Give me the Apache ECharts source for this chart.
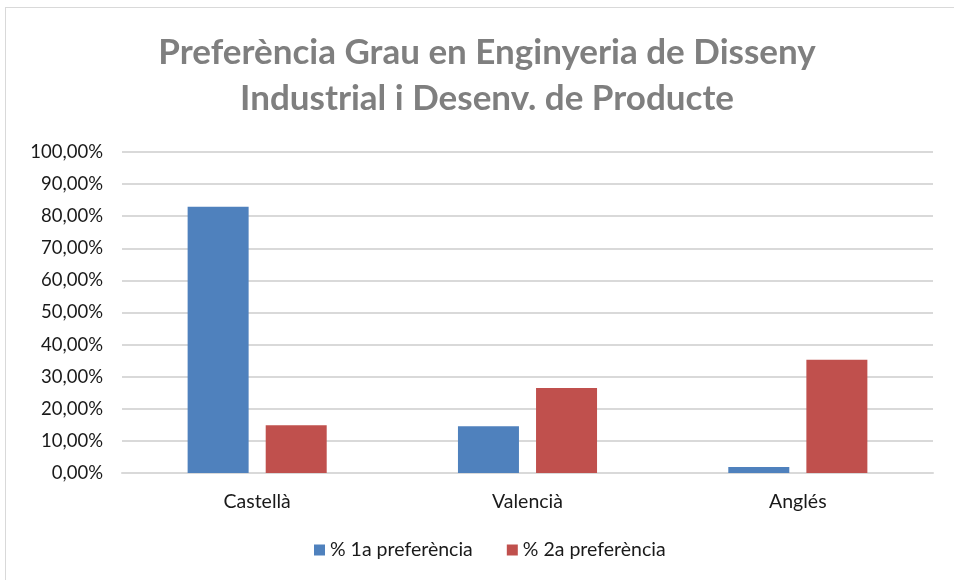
<!DOCTYPE html>
<html>
<head>
<meta charset="utf-8">
<script src="https://cdn.jsdelivr.net/npm/echarts@6/dist/echarts.min.js"></script>
<style>
  html, body { margin: 0; padding: 0; background: #fff; }
  #frame { position: absolute; left: 5px; top: 7px; width: 960px; height: 600px;
           border: 1px solid #d9d9d9; box-sizing: border-box; }
  #chart { position: absolute; left: 0; top: 0; width: 954px; height: 580px; }
</style>
</head>
<body>
<div id="frame"></div>
<div id="chart"></div>
<script>
// Chart content
const titleText = 'Preferència Grau en Enginyeria de Disseny\nIndustrial i Desenv. de Producte';
const categories = ['Castellà', 'Valencià', 'Anglés'];
const seriesNames = ['% 1a preferència', '% 2a preferència'];
const firstPref = [82.96, 14.55, 1.9];
const secondPref = [14.85, 26.5, 35.3];
const yTicks = [0, 10, 20, 30, 40, 50, 60, 70, 80, 90, 100];

const colors = ['#4f81bd', '#c0504d'];
const labelFont = 'Lato, "Open Sans", sans-serif';

function fmtPct(v) {
  return v.toFixed(2).replace('.', ',') + '%';
}

const chart = echarts.init(document.getElementById('chart'), null, { renderer: 'canvas' });
chart.setOption({
  animation: false,
  backgroundColor: 'transparent',
  color: colors,
  title: {
    text: titleText,
    left: 482,
    top: 25,
    textAlign: 'center',
    textStyle: {
      fontFamily: labelFont,
      fontSize: 35,
      fontWeight: 'bold',
      color: '#7f7f7f',
      lineHeight: 46
    }
  },
  grid: { left: 122, right: 21, top: 152, bottom: 107, containLabel: false },
  xAxis: {
    type: 'category',
    data: categories,
    axisLine: { lineStyle: { color: '#d9d9d9', width: 2 } },
    axisTick: { show: false },
    axisLabel: { color: '#1a1a1a', fontFamily: labelFont, fontSize: 19.5, margin: 19 }
  },
  yAxis: {
    type: 'value',
    min: yTicks[0],
    max: yTicks[yTicks.length - 1],
    interval: yTicks[1] - yTicks[0],
    axisLine: { show: false },
    axisTick: { show: false },
    splitLine: { lineStyle: { color: '#d9d9d9', width: 2 } },
    axisLabel: { color: '#1a1a1a', fontFamily: labelFont, fontSize: 18.5, margin: 19,
                 formatter: v => fmtPct(v) }
  },
  legend: {
    bottom: 15,
    left: 309,
    itemWidth: 11,
    itemHeight: 11,
    itemGap: 34,
    icon: 'rect',
    textStyle: { color: '#1a1a1a', fontFamily: labelFont, fontSize: 19.5 },
    data: seriesNames
  },
  series: [
    { name: seriesNames[0], type: 'bar', data: firstPref, barWidth: 61, barGap: '28%',
      itemStyle: { color: colors[0] } },
    { name: seriesNames[1], type: 'bar', data: secondPref, barWidth: 61, barGap: '28%',
      itemStyle: { color: colors[1] } }
  ]
});
</script>
</body>
</html>
